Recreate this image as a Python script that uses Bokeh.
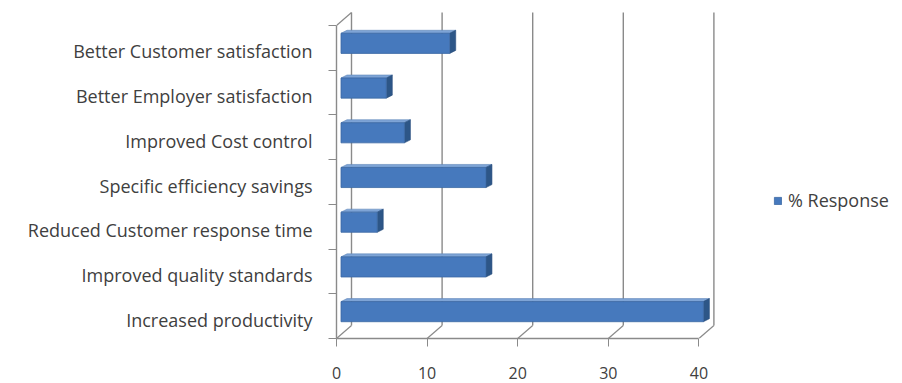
from bokeh.plotting import figure
from bokeh.models import FixedTicker, Legend, LegendItem, ColumnDataSource
from bokeh.embed import file_html
from bokeh.resources import INLINE

# Survey results: share of responses per benefit (bottom to top)
categories = [
    "Increased productivity",
    "Improved quality standards",
    "Reduced Customer response time",
    "Specific efficiency savings",
    "Improved Cost control",
    "Better Employer satisfaction",
    "Better Customer satisfaction",
]
values = [40, 16, 4, 16, 7, 5, 12]
series_name = "% Response"
x_ticks = [0, 10, 20, 30, 40]

FONT = "Open Sans"
TEXT = "#404040"
GRID = "#8a8a8a"

# plot frame in pixels
W, H = 902, 383
FL, FR, FT, FB = 336, 902, 10, 338
n = len(categories)
px_per_x = 9.06
px_per_y = (FB - 25) / n

# labels sit slightly below the centre of each row of the front plane
d = 3.5 / px_per_y

x0 = 0.0
x1 = (FR - FL) / px_per_x
y0 = -0.5 + d
y_top = n - 0.5 + d
y1 = y0 + (FB - FT) / px_per_y


# oblique depth offsets (pixels -> data units)
def ox(px):
    return px / px_per_x


def oy(px):
    return px / px_per_y


wall_dx, wall_dy = ox(15), oy(13)
bar_off_x, bar_off_y = ox(4.5), d + oy(4.5)
bar_dx, bar_dy = ox(6), oy(3)
bar_half = 0.225

p = figure(
    width=W, height=H,
    x_range=(x0, x1), y_range=(y0, y1),
    output_backend="svg", toolbar_location=None,
    min_border_left=FL, min_border_right=W - FR,
    min_border_top=FT, min_border_bottom=H - FB,
)
p.outline_line_color = None
p.background_fill_color = "white"
p.border_fill_color = "white"
p.xgrid.visible = False
p.ygrid.visible = False

# back wall gridlines
p.segment(
    x0=[t + wall_dx for t in x_ticks], y0=[y0 + wall_dy] * len(x_ticks),
    x1=[t + wall_dx for t in x_ticks], y1=[y_top + wall_dy] * len(x_ticks),
    line_color=GRID, line_width=1.4,
)
# floor connectors from front ticks to back wall
p.segment(
    x0=x_ticks, y0=[y0] * len(x_ticks),
    x1=[t + wall_dx for t in x_ticks], y1=[y0 + wall_dy] * len(x_ticks),
    line_color=GRID, line_width=1.2,
)
# side wall top edge
p.segment(x0=[0], y0=[y_top], x1=[wall_dx], y1=[y_top + wall_dy],
          line_color=GRID, line_width=1.2)

# bars: front face, top face and side face
ys = list(range(n))
lefts = [bar_off_x] * len(values)
rights = [v + bar_off_x for v in values]
bottoms = [y - bar_half + bar_off_y for y in ys]
tops = [y + bar_half + bar_off_y for y in ys]

top_xs, top_ys, side_xs, side_ys = [], [], [], []
for l, r, b, t in zip(lefts, rights, bottoms, tops):
    top_xs.append([l, l + bar_dx, r + bar_dx, r])
    top_ys.append([t, t + bar_dy, t + bar_dy, t])
    side_xs.append([r, r + bar_dx, r + bar_dx, r])
    side_ys.append([b, b + bar_dy, t + bar_dy, t])

p.patches(top_xs, top_ys, fill_color="#7ea4d6", line_color="#5f86b8", line_width=0.6)
p.patches(side_xs, side_ys, fill_color="#2d5687", line_color="#2a4f7d", line_width=0.6)
src = ColumnDataSource(dict(left=lefts, right=rights, bottom=bottoms, top=tops))
front = p.quad(left="left", right="right", bottom="bottom", top="top", source=src,
               fill_color="#4679bd", line_color="#3b68a3", line_width=0.8)

# y axis: labels per category, tick marks at row boundaries
p.yaxis.ticker = FixedTicker(ticks=ys, minor_ticks=[k - 0.5 + d for k in range(n + 1)])
p.yaxis.major_label_overrides = {i: c for i, c in enumerate(categories)}
p.yaxis.bounds = (y0, y_top)
p.yaxis.major_tick_out = 0
p.yaxis.major_tick_in = 0
p.yaxis.minor_tick_out = 8
p.yaxis.minor_tick_in = 0
p.yaxis.minor_tick_line_color = GRID
p.yaxis.axis_line_color = GRID
p.yaxis.axis_line_width = 1.4
p.yaxis.major_label_standoff = 16
p.yaxis.major_label_text_font = FONT
p.yaxis.major_label_text_font_size = "18px"
p.yaxis.major_label_text_color = TEXT

# x axis along the front floor edge
p.xaxis.ticker = FixedTicker(ticks=x_ticks, minor_ticks=[])
p.xaxis.bounds = (x_ticks[0], x_ticks[-1])
p.xaxis.major_tick_out = 8
p.xaxis.major_tick_in = 0
p.xaxis.major_tick_line_color = GRID
p.xaxis.axis_line_color = GRID
p.xaxis.axis_line_width = 1.4
p.xaxis.major_label_standoff = 20
p.xaxis.major_label_text_font = FONT
p.xaxis.major_label_text_font_size = "16px"
p.xaxis.major_label_text_color = TEXT

legend = Legend(
    items=[LegendItem(label=series_name, renderers=[front])],
    location=(437, 126),
    border_line_color=None, background_fill_alpha=0,
    padding=0, margin=0, glyph_width=9, glyph_height=9, label_standoff=6,
    label_text_font=FONT, label_text_font_size="18px", label_text_color=TEXT,
)
p.add_layout(legend, "center")

open("out.html", "w").write(file_html(p, INLINE))
